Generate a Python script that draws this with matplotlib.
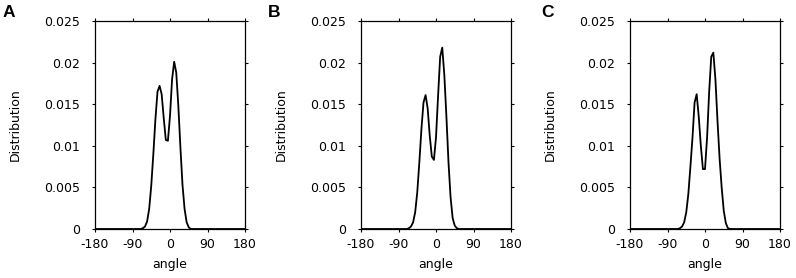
import numpy as np
import matplotlib
matplotlib.use("Agg")
import matplotlib.pyplot as plt

# angles (deg) with densities
angle = [-180, -70, -65, -60, -55, -50, -45, -40, -35, -30, -25, -20, -15, -10, -5,
         0, 5, 10, 15, 20, 25, 30, 35, 40, 45, 50, 55, 60, 180]

dist_a = [0, 0, 0.0001, 0.0003, 0.0009, 0.0024, 0.0052, 0.0090, 0.0132, 0.0165, 0.0172,
          0.0162, 0.0133, 0.0107, 0.0106, 0.0136, 0.0180, 0.0201, 0.0188, 0.0148,
          0.0098, 0.0053, 0.0024, 0.0008, 0.0002, 0, 0, 0, 0]
dist_b = [0, 0, 0.0001, 0.0003, 0.0008, 0.0020, 0.0044, 0.0080, 0.0120, 0.0152, 0.0161,
          0.0145, 0.0112, 0.0087, 0.0083, 0.0110, 0.0160, 0.0207, 0.0218, 0.0185,
          0.0135, 0.0080, 0.0038, 0.0013, 0.0004, 0.0001, 0, 0, 0]
dist_c = [0, 0, 0, 0.0001, 0.0003, 0.0008, 0.0020, 0.0042, 0.0075, 0.0110, 0.0152,
          0.0162, 0.0135, 0.0100, 0.0072, 0.0072, 0.0110, 0.0165, 0.0207, 0.0212,
          0.0180, 0.0130, 0.0085, 0.0050, 0.0022, 0.0007, 0.0001, 0, 0]

panels = ["A", "B", "C"]
series = [dist_a, dist_b, dist_c]
xticks = [-180, -90, 0, 90, 180]
yticks = [0, 0.005, 0.01, 0.015, 0.02, 0.025]
ytick_labels = ["0", "0.005", "0.01", "0.015", "0.02", "0.025"]

plt.rcParams['font.family'] = ['DejaVu Sans']
plt.rcParams['axes.unicode_minus'] = False
fig = plt.figure(figsize=(7.96, 2.78), dpi=100)

lefts = [95, 361, 630]
letter_x = [3, 268, 541]
for left, lx, letter, d in zip(lefts, letter_x, panels, series):
    ax = fig.add_axes([left / 796, 1 - 229 / 278, 150 / 796, 208 / 278])
    ax.plot(angle, d, color='black', lw=1.3)
    ax.set_xlim(-180, 180)
    ax.set_ylim(0, 0.025)
    ax.set_xticks(xticks)
    ax.set_yticks(yticks)
    ax.set_yticklabels(ytick_labels)
    ax.tick_params(direction='out', top=True, right=True, length=2.5, width=0.8,
                   labelsize=9)
    ax.tick_params(axis='y', pad=8)
    ax.tick_params(axis='x', pad=4)
    for s in ax.spines.values():
        s.set_linewidth(0.9)
    ax.set_xlabel("angle", fontsize=9, labelpad=5)
    ax.set_ylabel("Distribution", fontsize=9, labelpad=16)
    fig.text(lx / 796, 1 - 5 / 278, letter, fontsize=12.5, fontweight='bold',
             family='Liberation Sans', ha='left', va='top')

plt.savefig("out.png", dpi=100)
